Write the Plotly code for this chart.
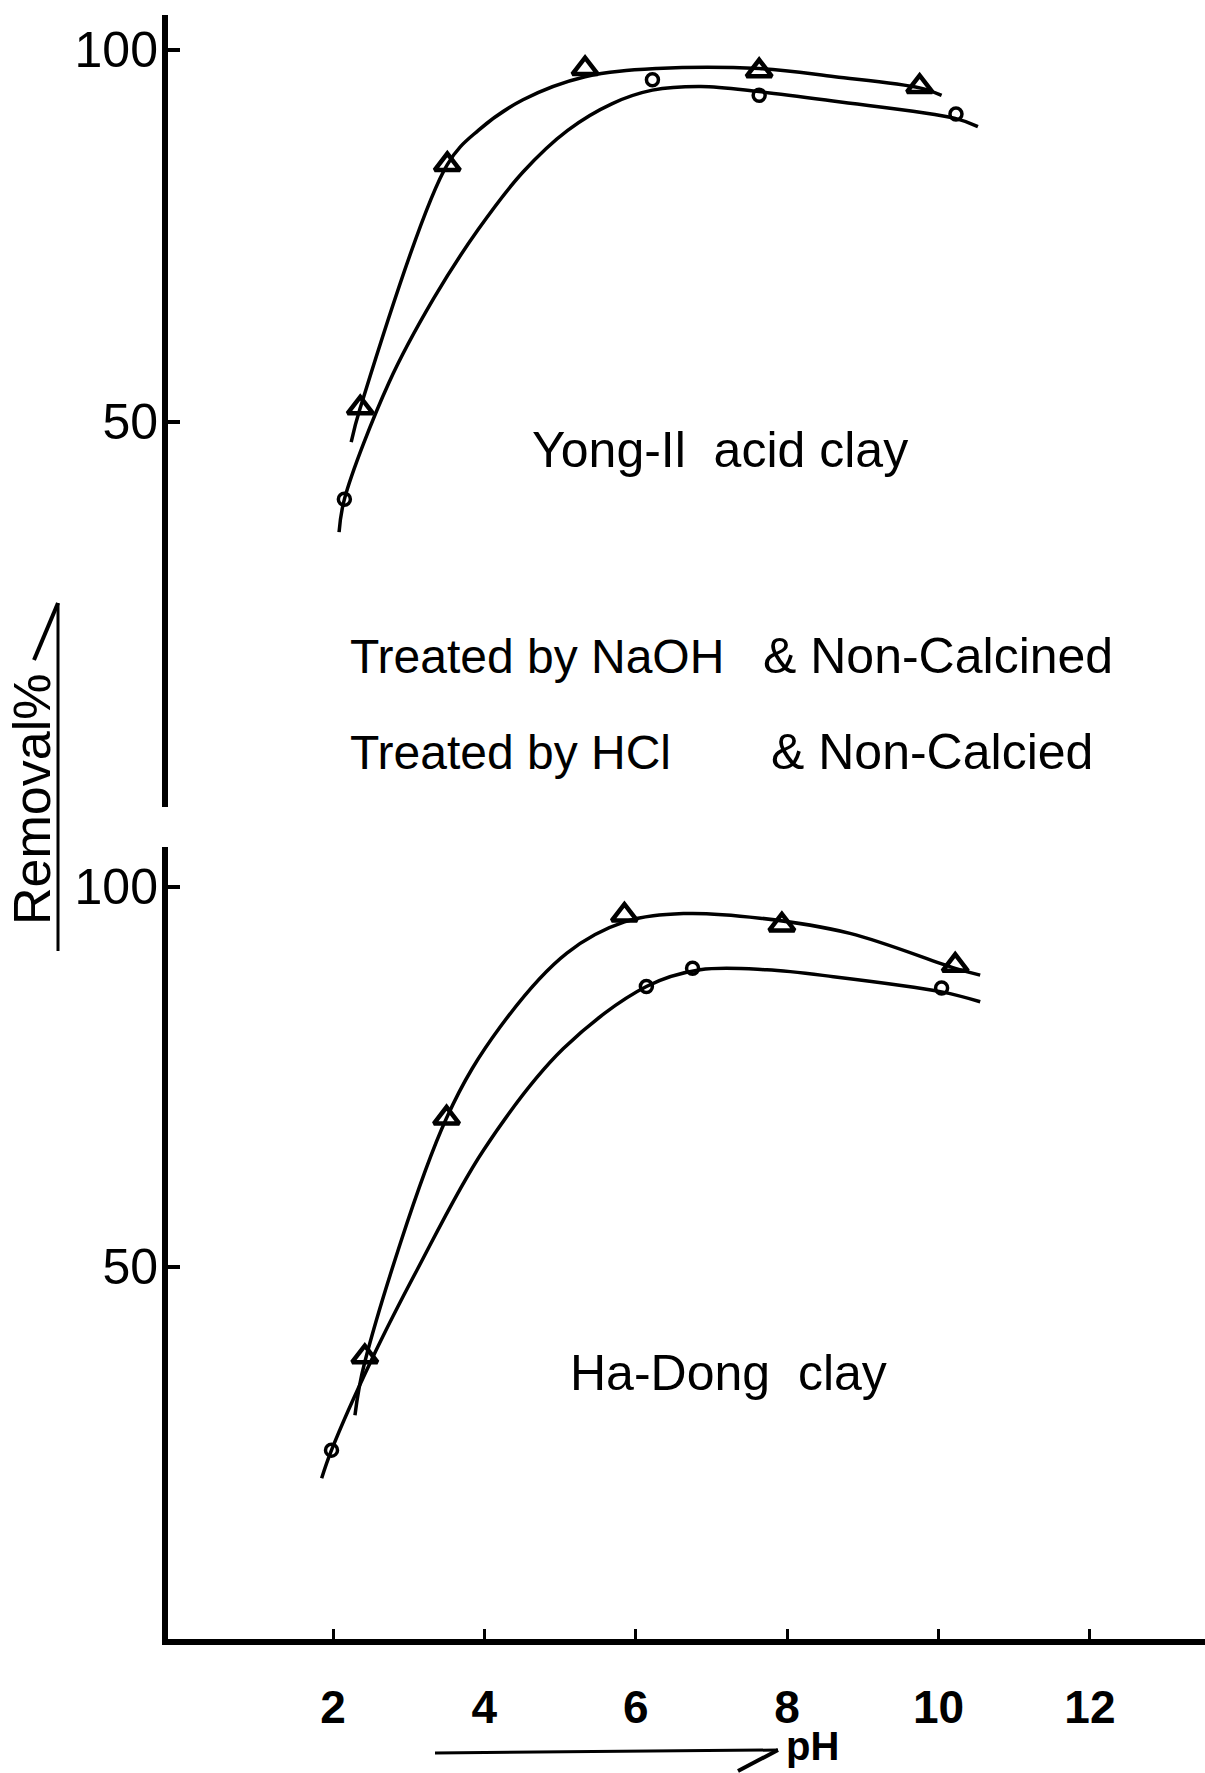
import plotly.graph_objects as go

# ---------------- data ----------------
ph_ticks = [2, 4, 6, 8, 10, 12]
ph_tick_text = ["2", "4", "6", "8", "10", "12"]
removal_ticks = [50, 100]

# Yong-Il acid clay, treated by NaOH (triangles) - smoothed curve and measured points
yong_naoh_curve_ph = [2.24, 2.36, 3.51, 3.92, 4.51, 5.33, 6.28, 7.63, 8.63, 9.75, 10.04]
yong_naoh_curve_val = [47.3, 51.9, 84.6, 89.2, 93.3, 96.4, 97.5, 97.5, 96.4, 94.9, 93.9]
yong_naoh_ph = [2.36, 3.51, 5.33, 7.63, 9.75]
yong_naoh_val = [51.9, 84.6, 97.5, 97.2, 95.1]

# Yong-Il acid clay, treated by HCl (circles)
yong_hcl_curve_ph = [2.08, 2.15, 2.74, 3.33, 3.92, 4.51, 5.10, 5.69, 6.22, 6.86, 7.63, 8.63, 10.22, 10.52]
yong_hcl_curve_val = [35.2, 39.6, 55.3, 66.6, 75.9, 83.6, 89.2, 92.8, 94.6, 95.1, 94.4, 93.1, 90.8, 89.7]
yong_hcl_ph = [2.15, 6.22, 7.63, 10.23]
yong_hcl_val = [39.6, 96.0, 93.9, 91.4]

# Ha-Dong clay, treated by NaOH (triangles)
hadong_naoh_curve_ph = [2.29, 2.42, 3.50, 4.21, 5.09, 5.85, 6.63, 7.64, 8.83, 10.22, 10.55]
hadong_naoh_curve_val = [30.5, 37.5, 69.6, 81.6, 91.3, 95.4, 96.5, 95.9, 93.9, 89.3, 88.4]
hadong_naoh_ph = [2.42, 3.50, 5.85, 7.93, 10.22]
hadong_naoh_val = [38.2, 69.6, 96.3, 95.0, 89.7]

# Ha-Dong clay, treated by HCl (circles)
hadong_hcl_curve_ph = [1.85, 1.98, 2.51, 3.11, 3.99, 5.04, 6.14, 6.85, 7.73, 8.61, 10.04, 10.55]
hadong_hcl_curve_val = [22.2, 25.9, 37.8, 49.6, 65.4, 78.7, 86.9, 89.1, 89.1, 88.2, 86.2, 84.9]
hadong_hcl_ph = [1.98, 6.14, 6.75, 10.04]
hadong_hcl_val = [25.9, 86.9, 89.3, 86.7]

# ---------------- figure ----------------
W, H = 1205, 1773
FONT = "Liberation Sans, Arial, sans-serif"
INK = "black"


def px(x):
    return x / W


def py(y):
    return 1 - y / H


fig = go.Figure()

panels = [
    ("x", "y", yong_naoh_curve_ph, yong_naoh_curve_val, yong_naoh_ph, yong_naoh_val,
     yong_hcl_curve_ph, yong_hcl_curve_val, yong_hcl_ph, yong_hcl_val),
    ("x2", "y2", hadong_naoh_curve_ph, hadong_naoh_curve_val, hadong_naoh_ph, hadong_naoh_val,
     hadong_hcl_curve_ph, hadong_hcl_curve_val, hadong_hcl_ph, hadong_hcl_val),
]

for xa, ya, ncx, ncy, nx, ny, hcx, hcy, hx, hy in panels:
    for cx, cy in ((ncx, ncy), (hcx, hcy)):
        fig.add_trace(go.Scatter(
            x=cx, y=cy, xaxis=xa, yaxis=ya, mode="lines",
            line=dict(color=INK, width=3.5, shape="spline", smoothing=1.0),
            hoverinfo="skip"))
    fig.add_trace(go.Scatter(
        x=nx, y=ny, xaxis=xa, yaxis=ya, mode="markers",
        marker=dict(symbol="triangle-up-open", size=22, color=INK,
                    line=dict(color=INK, width=4.5)),
        name="NaOH"))
    fig.add_trace(go.Scatter(
        x=hx, y=hy, xaxis=xa, yaxis=ya, mode="markers",
        marker=dict(symbol="circle-open", size=12, color=INK,
                    line=dict(color=INK, width=3.5)),
        name="HCl"))

x_range = [-0.18, 13.52]
x_dom = [px(168), 1.0]

yaxis_common = dict(
    showgrid=False, zeroline=False, showline=True, linecolor=INK, linewidth=6,
    ticks="inside", ticklen=12, tickwidth=4, tickcolor=INK,
    tickvals=removal_ticks, ticktext=[str(v) for v in removal_ticks],
    tickfont=dict(family=FONT, size=50, color=INK),
    ticklabelstandoff=-6,
)

fig.update_layout(
    width=W, height=H,
    margin=dict(l=0, r=0, t=0, b=0),
    paper_bgcolor="white", plot_bgcolor="white",
    showlegend=False,
    xaxis=dict(domain=x_dom, range=x_range, anchor="y", matches="x2",
               visible=False, showgrid=False, zeroline=False),
    yaxis=dict(domain=[py(807), py(15)], range=[-1.75, 104.7], anchor="x",
               **yaxis_common),
    xaxis2=dict(domain=x_dom, range=x_range, anchor="y2",
                showgrid=False, zeroline=False, showline=True, linecolor=INK,
                linewidth=6, ticks="inside", ticklen=10, tickwidth=3, tickcolor=INK,
                tickvals=ph_ticks, ticktext=ph_tick_text,
                tickfont=dict(family=FONT, size=46, color=INK, weight="bold"),
                ticklabelstandoff=23),
    yaxis2=dict(domain=[py(1639), py(847)], range=[1.05, 105.26], anchor="x2",
                **yaxis_common),
)

text_font = dict(family=FONT, size=50, color=INK)
treat_font = dict(family=FONT, size=48, color=INK)
annotations = [
    dict(text="Yong-Il  acid clay", x=7.11, y=46.2, xref="x", yref="y",
         xanchor="center", yanchor="middle", font=text_font, showarrow=False),
    dict(text="Treated by NaOH", x=2.20, y=18.5, xref="x", yref="y",
         xanchor="left", yanchor="middle", font=treat_font, showarrow=False),
    dict(text="& Non-Calcined", x=7.65, y=18.5, xref="x", yref="y",
         xanchor="left", yanchor="middle", font=text_font, showarrow=False),
    dict(text="Treated by HCl", x=2.20, y=5.6, xref="x", yref="y",
         xanchor="left", yanchor="middle", font=treat_font, showarrow=False),
    dict(text="& Non-Calcied", x=7.76, y=5.6, xref="x", yref="y",
         xanchor="left", yanchor="middle", font=text_font, showarrow=False),
    dict(text="Ha-Dong  clay", x=7.22, y=36.0, xref="x2", yref="y2",
         xanchor="center", yanchor="middle", font=text_font, showarrow=False),
    dict(text="Removal%", x=px(32), y=py(800), xref="paper", yref="paper",
         xanchor="center", yanchor="middle", textangle=-90,
         font=dict(family=FONT, size=52, color=INK), showarrow=False),
    dict(text="pH", x=px(812), y=py(1746), xref="paper", yref="paper",
         xanchor="center", yanchor="middle",
         font=dict(family=FONT, size=40, color=INK, weight="bold"), showarrow=False),
]
fig.update_layout(annotations=annotations)

# arrow-style axis captions
arrow_line = dict(color=INK, width=3)
shapes = [
    dict(type="line", xref="paper", yref="paper", x0=px(58), y0=py(951), x1=px(58), y1=py(603), line=arrow_line),
    dict(type="line", xref="paper", yref="paper", x0=px(58), y0=py(603), x1=px(34), y1=py(660), line=dict(color=INK, width=4)),
    dict(type="line", xref="paper", yref="paper", x0=px(435), y0=py(1753), x1=px(778), y1=py(1750), line=arrow_line),
    dict(type="line", xref="paper", yref="paper", x0=px(778), y0=py(1750), x1=px(738), y1=py(1771), line=dict(color=INK, width=4)),
]
fig.update_layout(shapes=shapes)

fig.write_html("out.html")
